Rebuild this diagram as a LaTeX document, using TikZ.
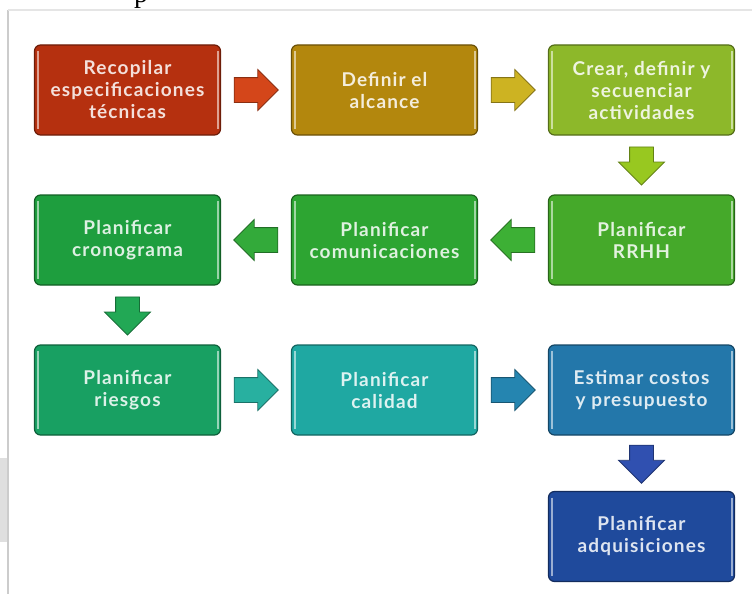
\documentclass[tikz,border=0pt]{standalone}
\usepackage{fontspec}
\setmainfont[LetterSpace=6]{Lato}
\newfontfamily\pagefont{Liberation Serif}
\usetikzlibrary{shapes.arrows}

\definecolor{boxA}{HTML}{B5300F}
\definecolor{boxB}{HTML}{B3870D}
\definecolor{boxC}{HTML}{8DB82A}
\definecolor{boxD}{HTML}{45A92A}
\definecolor{boxE}{HTML}{2DA532}
\definecolor{boxF}{HTML}{1E9E3E}
\definecolor{boxG}{HTML}{18A062}
\definecolor{boxH}{HTML}{1FA8A2}
\definecolor{boxI}{HTML}{2377AA}
\definecolor{boxJ}{HTML}{1F4A9C}
\definecolor{arrA}{HTML}{D4461A}
\definecolor{arrB}{HTML}{CDB322}
\definecolor{arrC}{HTML}{98C820}
\definecolor{arrD}{HTML}{3DB035}
\definecolor{arrE}{HTML}{33AA3A}
\definecolor{arrF}{HTML}{22A855}
\definecolor{arrG}{HTML}{28B0A0}
\definecolor{arrH}{HTML}{2585B0}
\definecolor{arrI}{HTML}{3050B0}

\begin{document}
\begin{tikzpicture}[x=1pt, y=-1pt,
  procbox/.style={rectangle, rounded corners=6pt, minimum width=186pt, minimum height=90pt,
    fill=#1, draw=#1!60!black, line width=1.2pt, text=white!85!#1, align=center,
    font=\fontsize{19}{22}\selectfont\bfseries,
    path picture={
      \draw[#1!45!white, line width=2pt]
        ([xshift=3pt,yshift=-6pt]path picture bounding box.north west) --
        ([xshift=3pt,yshift=6pt]path picture bounding box.south west);
      \draw[#1!45!white, line width=2pt]
        ([xshift=-3pt,yshift=-6pt]path picture bounding box.north east) --
        ([xshift=-3pt,yshift=6pt]path picture bounding box.south east);}},
  blockarrow/.style={single arrow, fill=#1, draw=#1!65!black, line width=0.8pt,
    minimum height=44pt, single arrow head extend=8pt, inner xsep=0pt, inner ysep=12pt},
  toright/.style={xshift=-6pt},
  toleft/.style={shape border rotate=180, xshift=6pt},
  todown/.style={shape border rotate=270, minimum height=38pt, single arrow head extend=11pt,
    inner xsep=11.5pt, inner ysep=0pt, yshift=5pt}]

\useasboundingbox (0,0) rectangle (752,594);

% the slide frame
\fill[gray!25] (0,458) rectangle (7,542);
\draw[gray!40, line width=1.5pt] (8,594) -- (8,10);
\draw[gray!20, line width=1.2pt] (8,10) -- (752,10);
\node[font=\pagefont\fontsize{28}{28}\selectfont, anchor=base, inner sep=0pt] (pg) at (141,3) {p};

\def\colA{127.5}
\def\colB{384.5}
\def\colC{641.5}

% the process boxes
\node[procbox=boxA] (recop) at (\colA,90) {Recopilar\\especificaciones\\técnicas};
\node[procbox=boxB] (alcance) at (\colB,90) {Definir el\\alcance};
\node[procbox=boxC] (activ) at (\colC,90) {Crear, definir y\\secuenciar\\actividades};
\node[procbox=boxD] (rrhh) at (\colC,240) {Planificar\\RRHH};
\node[procbox=boxE] (comun) at (\colB,240) {Planificar\\comunicaciones};
\node[procbox=boxF] (crono) at (\colA,240) {Planificar\\cronograma};
\node[procbox=boxG] (riesgo) at (\colA,390) {Planificar\\riesgos};
\node[procbox=boxH] (calidad) at (\colB,390) {Planificar\\calidad};
\node[procbox=boxI] (costos) at (\colC,390) {Estimar costos\\y presupuesto};
\node[procbox=boxJ] (adquis) at (\colC,536.5) {Planificar\\adquisiciones};

% the block arrows between them
\path (recop) -- node[blockarrow=arrA, toright] (a1) {} (alcance);
\path (alcance) -- node[blockarrow=arrB, toright] (a2) {} (activ);
\path (activ) -- node[blockarrow=arrC, todown] (a3) {} (rrhh);
\path (rrhh) -- node[blockarrow=arrD, toleft] (a4) {} (comun);
\path (comun) -- node[blockarrow=arrE, toleft] (a5) {} (crono);
\path (crono) -- node[blockarrow=arrF, todown] (a6) {} (riesgo);
\path (riesgo) -- node[blockarrow=arrG, toright] (a7) {} (calidad);
\path (calidad) -- node[blockarrow=arrH, toright] (a8) {} (costos);
\path (costos) -- node[blockarrow=arrI, todown] (a9) {} (adquis);
\end{tikzpicture}
\end{document}
